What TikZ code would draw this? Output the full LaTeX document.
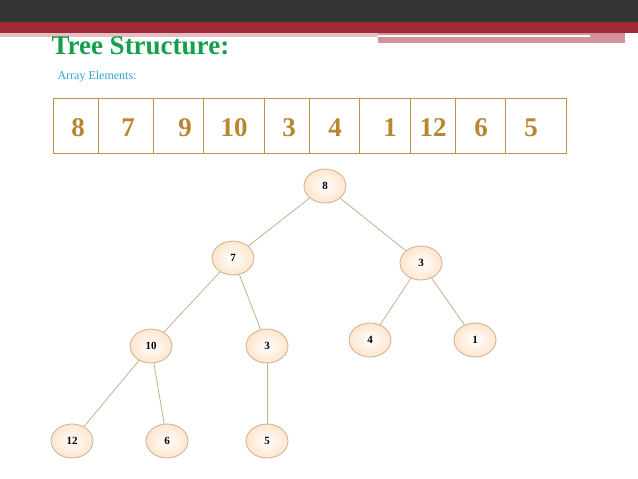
\documentclass[tikz,border=0pt]{standalone}
\usepackage{fontspec}
\setmainfont{Liberation Serif}
\usetikzlibrary{shapes.geometric}
\definecolor{dark}{HTML}{333333}
\definecolor{bandred}{HTML}{9E2A35}
\definecolor{pinkband}{HTML}{D4939C}
\definecolor{ttl}{HTML}{14A04A}
\definecolor{cy}{HTML}{2EA4D0}
\definecolor{gold}{HTML}{B8862F}
\definecolor{edge}{HTML}{C9B08E}
\definecolor{nfill}{HTML}{FCE9D6}
\tikzset{tn/.style={ellipse,draw=edge,line width=0.8pt,inner color=white,outer color=nfill!80!orange!60,minimum width=42pt,minimum height=34pt,font=\bfseries\fontsize{11}{11}\selectfont},
 tl/.style={draw=edge,line width=0.8pt},
 cell/.style={font=\bfseries\fontsize{27}{27}\selectfont,text=gold}}
\begin{document}
\begin{tikzpicture}[x=1pt,y=-1pt]
\useasboundingbox (0,0) rectangle (638,479);
\fill[white] (0,0) rectangle (638,479);
\fill[dark] (0,0) rectangle (638,22);
\fill[bandred] (0,22) rectangle (638,33);
\fill[pinkband] (378,33) rectangle (625,43);
\fill[white] (378,35) rectangle (590,37);
\fill[pinkband!60] (0,33) rectangle (378,37);
\node[anchor=west,text=ttl,font=\bfseries\fontsize{27}{27}\selectfont] (title) at (48,46) {Tree Structure:};
\node[anchor=west,text=cy,font=\fontsize{12}{12}\selectfont] (sub) at (54,77) {Array Elements:};
\draw[gold!90,line width=0.9pt] (53,98) rectangle (566,153);
\foreach \x in {98,153,203,264,309,359,410,455,505}{\draw[gold!90,line width=0.7pt] (\x,98) -- (\x,153);}
\node[cell] (c1) at (78,128) {8};
\node[cell] (c2) at (128,128) {7};
\node[cell] (c3) at (185,128) {9};
\node[cell] (c4) at (234,128) {10};
\node[cell] (c5) at (289,128) {3};
\node[cell] (c6) at (335,128) {4};
\node[cell] (c7) at (390,128) {1};
\node[cell] (c8) at (433,128) {12};
\node[cell] (c9) at (481,128) {6};
\node[cell] (c10) at (531,128) {5};
\node[tn] (n8) at (325,186) {8};
\node[tn] (n7) at (233,258) {7};
\node[tn] (n3a) at (421,263) {3};
\node[tn] (n10) at (151,346) {10};
\node[tn] (n3b) at (267,346) {3};
\node[tn] (n4) at (370,340) {4};
\node[tn] (n1) at (475,340) {1};
\node[tn] (n12) at (72,441) {12};
\node[tn] (n6) at (167,441) {6};
\node[tn] (n5) at (267,441) {5};
\draw[tl] (n8)--(n7); \draw[tl] (n8)--(n3a);
\draw[tl] (n7)--(n10); \draw[tl] (n7)--(n3b);
\draw[tl] (n3a)--(n4); \draw[tl] (n3a)--(n1);
\draw[tl] (n10)--(n12); \draw[tl] (n10)--(n6);
\draw[tl] (n3b)--(n5);
\end{tikzpicture}
\end{document}
